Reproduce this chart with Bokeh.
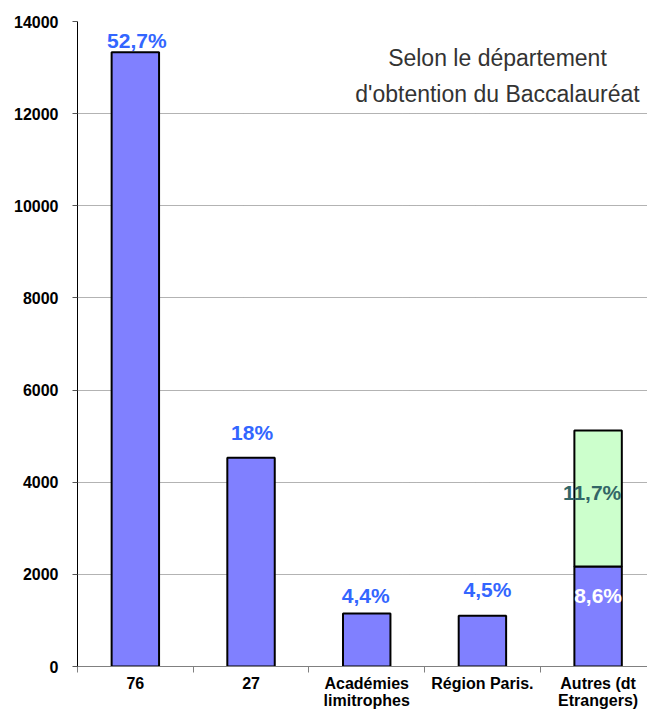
from bokeh.plotting import figure
from bokeh.models import ColumnDataSource, Range1d, FixedTicker, Label
from bokeh.core.properties import value
from bokeh.embed import file_html
from bokeh.resources import INLINE

# ---- data ----
categories = ["76", "27", "Académies\nlimitrophes", "Région Paris.", "Autres (dt\nEtrangers)"]
bac_counts = [13330, 4530, 1150, 1100, 2170]
foreign_counts = [0, 0, 0, 0, 2950]
pct_labels = ["52,7%", "18%", "4,4%", "4,5%", "8,6%"]
foreign_pct_labels = ["", "", "", "", "11,7%"]
y_ticks = [0, 2000, 4000, 6000, 8000, 10000, 12000, 14000]
title_lines = ["Selon le département", "d'obtention du Baccalauréat"]

# ---- layout / style ----
FONT = "Liberation Sans"
xs = list(range(len(categories)))
boundaries = [x - 0.5 for x in xs] + [xs[-1] + 0.5]

p = figure(width=647, height=711, output_backend="svg", toolbar_location=None,
           x_range=Range1d(-0.5, 4.427), y_range=Range1d(0, 14000),
           min_border_left=77, min_border_right=0, min_border_top=21,
           min_border_bottom=45)
p.outline_line_color = None
p.background_fill_color = "white"
p.border_fill_color = "white"

# bars
p.vbar(x=xs, bottom=0, top=bac_counts, width=0.41,
       fill_color="#8080FF", line_color="black", line_width=2)

stack_idx = [i for i, f in enumerate(foreign_counts) if f > 0]
p.vbar(x=[xs[i] for i in stack_idx],
       bottom=[bac_counts[i] for i in stack_idx],
       top=[bac_counts[i] + foreign_counts[i] for i in stack_idx],
       width=0.41, fill_color="#CCFFCC", line_color="black", line_width=2)

# percentage labels
lab_colors = ["#3366FF", "#3366FF", "#3366FF", "#3366FF", "white"]
lab_dx = [1.5, 1, -1, 5, 0]
lab_dy = [-12, -25, -18, -26, 29]
src = ColumnDataSource(dict(x=xs, y=bac_counts, text=pct_labels, color=lab_colors,
                            dx=lab_dx, dy=lab_dy))
p.text(x="x", y="y", text="text", source=src, text_color="color",
       x_offset="dx", y_offset="dy", text_align="center", text_baseline="middle",
       text_font=value(FONT), text_font_style="bold", text_font_size="21px")

src2 = ColumnDataSource(dict(
    x=[xs[i] for i in stack_idx],
    y=[bac_counts[i] + foreign_counts[i] for i in stack_idx],
    text=[foreign_pct_labels[i] for i in stack_idx]))
p.text(x="x", y="y", text="text", source=src2, text_color="#336666",
       x_offset=-6, y_offset=62, text_align="center", text_baseline="middle",
       text_font=value(FONT), text_font_style="bold", text_font_size="21px")

# title block
for line, yv in zip(title_lines, [13218, 12437]):
    p.add_layout(Label(x=3.13, y=yv, text=line, text_align="center",
                       text_baseline="middle", text_font=FONT,
                       text_font_size="23px", text_color="#333333"))

# axes
xa = p.xaxis[0]
xa.ticker = FixedTicker(ticks=xs, minor_ticks=boundaries)
xa.major_label_overrides = {x: c for x, c in zip(xs, categories)}
xa.major_tick_out = 0
xa.major_tick_in = 0
xa.minor_tick_out = 6
xa.minor_tick_in = 0
xa.minor_tick_line_color = "#808080"
xa.axis_line_color = "#808080"
xa.major_label_text_font = FONT
xa.major_label_text_font_style = "bold"
xa.major_label_text_font_size = "16px"
xa.major_label_text_color = "black"
xa.major_label_standoff = 2
xa.major_label_text_line_height = 1.0

ya = p.yaxis[0]
ya.ticker = FixedTicker(ticks=y_ticks)
ya.major_tick_out = 5
ya.major_tick_in = 0
ya.minor_tick_out = 0
ya.minor_tick_in = 0
ya.axis_line_color = "black"
ya.major_tick_line_color = "#555555"
ya.major_label_text_font = FONT
ya.major_label_text_font_style = "bold"
ya.major_label_text_font_size = "16px"
ya.major_label_text_color = "black"
ya.major_label_standoff = 14

p.xgrid.grid_line_color = None
p.ygrid.grid_line_color = "#666666"
p.ygrid.grid_line_dash = "1 1"
p.ygrid.grid_line_width = 1

open("out.html", "w").write(file_html(p, INLINE))
